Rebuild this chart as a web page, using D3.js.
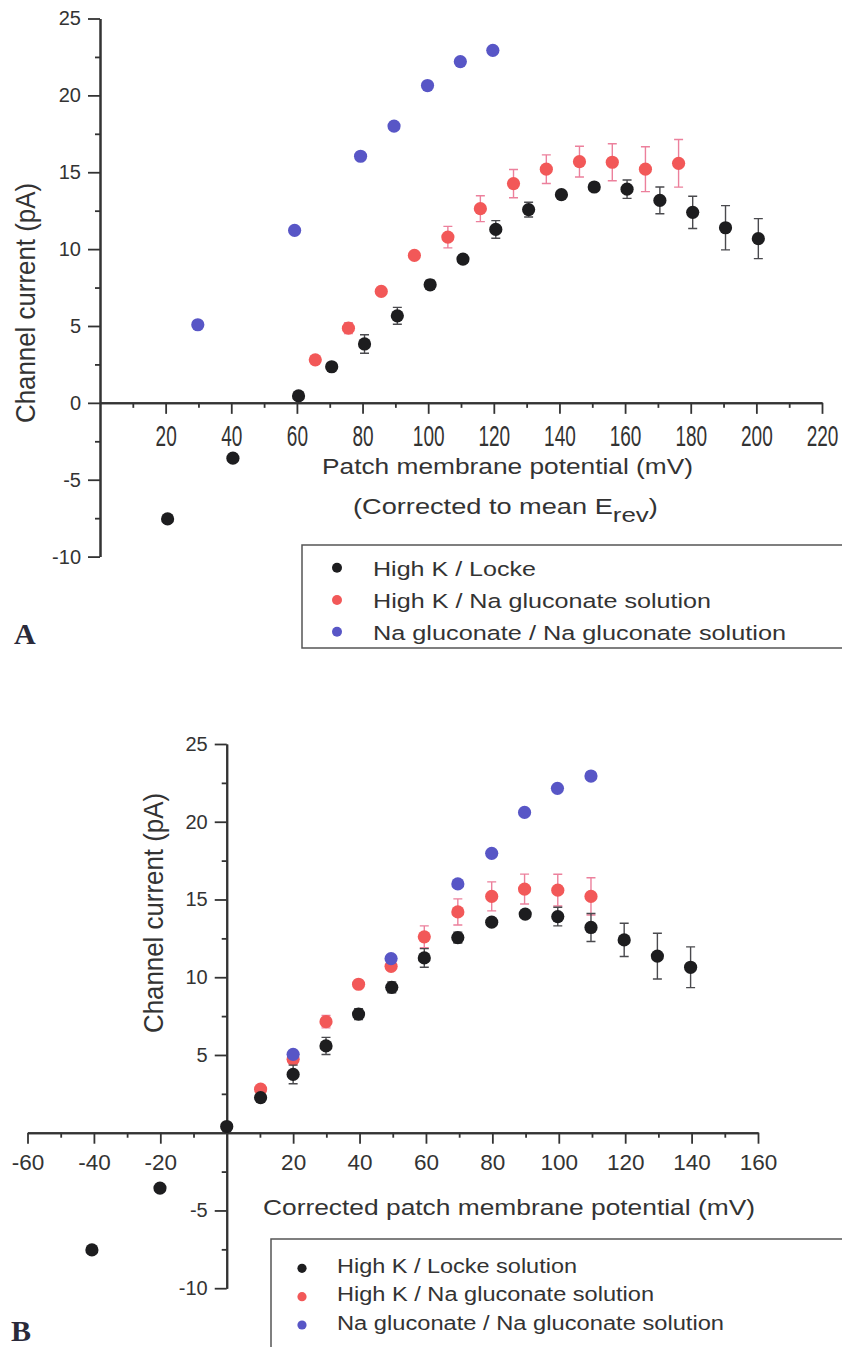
<!DOCTYPE html>
<html>
<head>
<meta charset="utf-8">
<script src="https://cdn.jsdelivr.net/npm/d3@7"></script>
<style>
  body { margin: 0; background: #ffffff; }
  svg { display: block; font-family: "Liberation Sans", Arial, sans-serif; }
</style>
</head>
<body>
<svg id="chart" width="842" height="1347"></svg>
<script>
// ---- panel A : patch membrane potential (mV) vs channel current (pA)
var aLockeV   = [20.6, 40.5, 60.5, 70.6, 80.6, 90.6, 100.6, 110.6, 120.6, 130.6, 140.6, 150.6, 160.6, 170.6, 180.6, 190.6, 200.6];
var aLockeI   = [-7.55, -3.6, 0.45, 2.35, 3.83, 5.66, 7.68, 9.35, 11.28, 12.57, 13.54, 14.04, 13.9, 13.17, 12.39, 11.39, 10.68];
var aLockeErr = [0.1, 0.1, 0.1, 0.15, 0.6, 0.55, 0.3, 0.25, 0.57, 0.48, 0.22, 0.15, 0.6, 0.87, 1.05, 1.44, 1.3];

var aGlucV   = [65.6, 75.7, 85.7, 95.8, 106, 115.9, 126, 136, 146.1, 156.1, 166.2, 176.3];
var aGlucI   = [2.8, 4.86, 7.25, 9.59, 10.78, 12.63, 14.26, 15.2, 15.69, 15.65, 15.2, 15.58];
var aGlucErr = [0.2, 0.35, 0.2, 0.2, 0.7, 0.84, 0.92, 0.93, 1.0, 1.2, 1.46, 1.55];

var aNaV = [29.8, 59.3, 79.4, 89.6, 99.8, 109.8, 119.7];
var aNaI = [5.08, 11.22, 16.04, 18.0, 20.64, 22.2, 22.93];

var aXTicks = [20, 40, 60, 80, 100, 120, 140, 160, 180, 200, 220];
var aXMinor = [10, 30, 50, 70, 90, 110, 130, 150, 170, 190, 210];
var aYTicks = [-10, -5, 0, 5, 10, 15, 20, 25];
var aYMinor = [-7.5, -2.5, 2.5, 7.5, 12.5, 17.5, 22.5];
var aLegend = ["High K / Locke", "High K / Na gluconate solution", "Na gluconate / Na gluconate solution"];

// ---- panel B : corrected patch membrane potential
var bLockeV   = [-40.6, -20.1, 0, 10.2, 20, 29.9, 39.7, 49.7, 59.5, 69.6, 79.8, 89.9, 99.7, 109.7, 119.7, 129.7, 139.7];
var bLockeI   = [-7.54, -3.56, 0.4, 2.26, 3.75, 5.58, 7.63, 9.35, 11.24, 12.55, 13.54, 14.06, 13.9, 13.2, 12.4, 11.36, 10.64];
var bLockeErr = [0.1, 0.1, 0.1, 0.15, 0.6, 0.55, 0.35, 0.35, 0.6, 0.35, 0.2, 0.2, 0.6, 0.9, 1.07, 1.47, 1.31];

var bGlucV   = [10.2, 20, 29.9, 39.7, 49.5, 59.5, 69.6, 79.8, 89.7, 99.7, 109.7];
var bGlucI   = [2.8, 4.72, 7.14, 9.55, 10.7, 12.6, 14.2, 15.2, 15.67, 15.6, 15.2];
var bGlucErr = [0.15, 0.3, 0.4, 0.2, 0.25, 0.7, 0.84, 0.93, 0.96, 1.02, 1.2];

var bNaV = [20, 49.5, 69.6, 79.8, 89.7, 99.6, 109.7];
var bNaI = [5.04, 11.2, 16.0, 17.97, 20.6, 22.15, 22.94];

var bXTicks = [-60, -40, -20, 20, 40, 60, 80, 100, 120, 140, 160];
var bXMinor = [-50, -30, -10, 10, 30, 50, 70, 90, 110, 130, 150];
var bYTicks = [-10, -5, 5, 10, 15, 20, 25];
var bYMinor = [-7.5, -2.5, 2.5, 7.5, 12.5, 17.5, 22.5];
var bLegend = ["High K / Locke solution", "High K / Na gluconate solution", "Na gluconate / Na gluconate solution"];

var dotColor = ["#1d1d1f", "#f25858", "#5856c6"];
var barColor = ["#4a4a4e", "#ec809c", "#5856c6"];
var axisColor = "#333";

var svg = d3.select("#chart");

// plain hyphen minus like the scan, not the unicode minus d3 uses
function plain(d) { return String(d); }

function zip(xs, ys, es) {
  return xs.map(function(v, i) { return {v: v, i: ys[i], e: es ? es[i] : 0}; });
}

function drawPanel(p) {
  var g = svg.append("g");

  // x axis, minor then major ticks
  g.append("g")
    .attr("transform", "translate(0," + p.y(0) + ")")
    .call(d3.axisBottom(p.x).tickValues(p.xMinor).tickSize(5).tickSizeOuter(0).tickFormat(""));
  var xa = g.append("g")
    .attr("transform", "translate(0," + p.y(0) + ")")
    .call(d3.axisBottom(p.x).tickValues(p.xTicks).tickSize(11).tickSizeOuter(0).tickFormat(plain));
  xa.selectAll(".tick text")
    .attr("y", 0).attr("dy", null)
    .attr("font-size", p.xFont)
    .attr("transform", "translate(0," + p.xLabelY + ") scale(" + p.xScale[0] + "," + p.xScale[1] + ")");

  // y axis at x = 0
  g.append("g")
    .attr("transform", "translate(" + p.x(0) + ",0)")
    .call(d3.axisLeft(p.y).tickValues(p.yMinor).tickSize(5).tickSizeOuter(0).tickFormat(""));
  g.append("g")
    .attr("transform", "translate(" + p.x(0) + ",0)")
    .call(d3.axisLeft(p.y).tickValues(p.yTicks).tickSize(12).tickSizeOuter(0).tickPadding(7).tickFormat(plain))
    .selectAll(".tick text").attr("font-size", 20);

  g.selectAll(".domain").attr("stroke", axisColor).attr("stroke-width", 2);
  g.selectAll(".tick line").attr("stroke", axisColor).attr("stroke-width", 1.8);
  g.selectAll(".tick text").attr("fill", "#333").style("font-family", "Liberation Sans, Arial, sans-serif");

  // series: red, blue, black (black and blue sit on top)
  [1, 2, 0].forEach(function(k) {
    var data = p.series[k];
    g.append("g").selectAll("path")
      .data(data.filter(function(d) { return d.e > 0; }))
      .enter().append("path")
      .attr("d", function(d) {
        var cx = p.x(d.v), y0 = p.y(d.i - d.e), y1 = p.y(d.i + d.e);
        return "M" + cx + "," + y0 + "V" + y1 +
               "M" + (cx - 4.5) + "," + y0 + "H" + (cx + 4.5) +
               "M" + (cx - 4.5) + "," + y1 + "H" + (cx + 4.5);
      })
      .attr("stroke", barColor[k])
      .attr("stroke-width", 1.4)
      .attr("fill", "none");
    g.append("g").selectAll("circle")
      .data(data)
      .enter().append("circle")
      .attr("cx", function(d) { return p.x(d.v); })
      .attr("cy", function(d) { return p.y(d.i); })
      .attr("r", 6.6)
      .attr("fill", dotColor[k]);
  });

  // legend box (runs off the right edge like the scan)
  g.append("rect")
    .attr("x", p.legend.x).attr("y", p.legend.y)
    .attr("width", 700).attr("height", p.legend.h)
    .attr("fill", "none").attr("stroke", "#555").attr("stroke-width", 1.5);
  p.legend.names.forEach(function(name, k) {
    g.append("circle")
      .attr("cx", p.legend.dotX).attr("cy", p.legend.rows[k])
      .attr("r", p.legend.r).attr("fill", dotColor[k]);
    g.append("text")
      .attr("x", p.legend.textX).attr("y", p.legend.rows[k] + p.legend.base)
      .attr("font-size", p.legend.font).attr("fill", "#333")
      .attr("textLength", p.legend.widths[k]).attr("lengthAdjust", "spacingAndGlyphs")
      .text(name);
  });

  // y title
  g.append("text")
    .attr("transform", "translate(" + p.yTitle[0] + "," + p.yTitle[1] + ") rotate(-90)")
    .attr("text-anchor", "middle")
    .attr("font-size", 28).attr("fill", "#333")
    .attr("textLength", 240).attr("lengthAdjust", "spacingAndGlyphs")
    .text("Channel current (pA)");

  // panel letter
  svg.append("text")
    .attr("x", p.letter[0]).attr("y", p.letter[1])
    .style("font-family", "Liberation Serif, Times New Roman, serif")
    .attr("font-weight", "bold").attr("font-size", 30).attr("fill", "#2a2a3a")
    .text(p.letter[2]);

  return g;
}

var gA = drawPanel({
  x: d3.scaleLinear().domain([0, 220]).range([100, 822]),
  y: d3.scaleLinear().domain([-10, 25]).range([556.6, 18.5]),
  xTicks: aXTicks, xMinor: aXMinor, yTicks: aYTicks, yMinor: aYMinor,
  xFont: 20, xLabelY: 43, xScale: [0.95, 1.45],
  series: [zip(aLockeV, aLockeI, aLockeErr), zip(aGlucV, aGlucI, aGlucErr), zip(aNaV, aNaI)],
  legend: {x: 302, y: 545, h: 103, dotX: 337, textX: 373, rows: [567.7, 600, 631.7], base: 8,
           r: 5, font: 20.5, widths: [163, 338, 413], names: aLegend},
  yTitle: [35, 303],
  letter: [14, 644, "A"]
});

gA.append("text")
  .attr("x", 322).attr("y", 474)
  .attr("font-size", 22).attr("fill", "#333")
  .attr("textLength", 371).attr("lengthAdjust", "spacingAndGlyphs")
  .text("Patch membrane potential (mV)");

var sub = gA.append("text")
  .attr("font-size", 22).attr("fill", "#333");
sub.append("tspan").text("(Corrected to mean E");
sub.append("tspan").attr("dy", 8).attr("font-size", 21).text("rev");
sub.append("tspan").attr("dy", -8).text(")");
var subW = sub.node().getComputedTextLength();
sub.attr("transform", "translate(353,514) scale(" + (305 / subW) + ",1)");

var gB = drawPanel({
  x: d3.scaleLinear().domain([-60, 160]).range([27.5, 758]),
  y: d3.scaleLinear().domain([-10, 25]).range([1288.2, 744]),
  xTicks: bXTicks, xMinor: bXMinor, yTicks: bYTicks, yMinor: bYMinor,
  xFont: 22.5, xLabelY: 37, xScale: [1, 1],
  series: [zip(bLockeV, bLockeI, bLockeErr), zip(bGlucV, bGlucI, bGlucErr), zip(bNaV, bNaI)],
  legend: {x: 271, y: 1239, h: 200, dotX: 302, textX: 337, rows: [1268.3, 1296.7, 1325], base: 4.5,
           r: 4.6, font: 19.5, widths: [240, 317, 387], names: bLegend},
  yTitle: [163, 913],
  letter: [11, 1341, "B"]
});

gB.append("text")
  .attr("x", 263).attr("y", 1215)
  .attr("font-size", 22).attr("fill", "#333")
  .attr("textLength", 492).attr("lengthAdjust", "spacingAndGlyphs")
  .text("Corrected patch membrane potential (mV)");
</script>
</body>
</html>
